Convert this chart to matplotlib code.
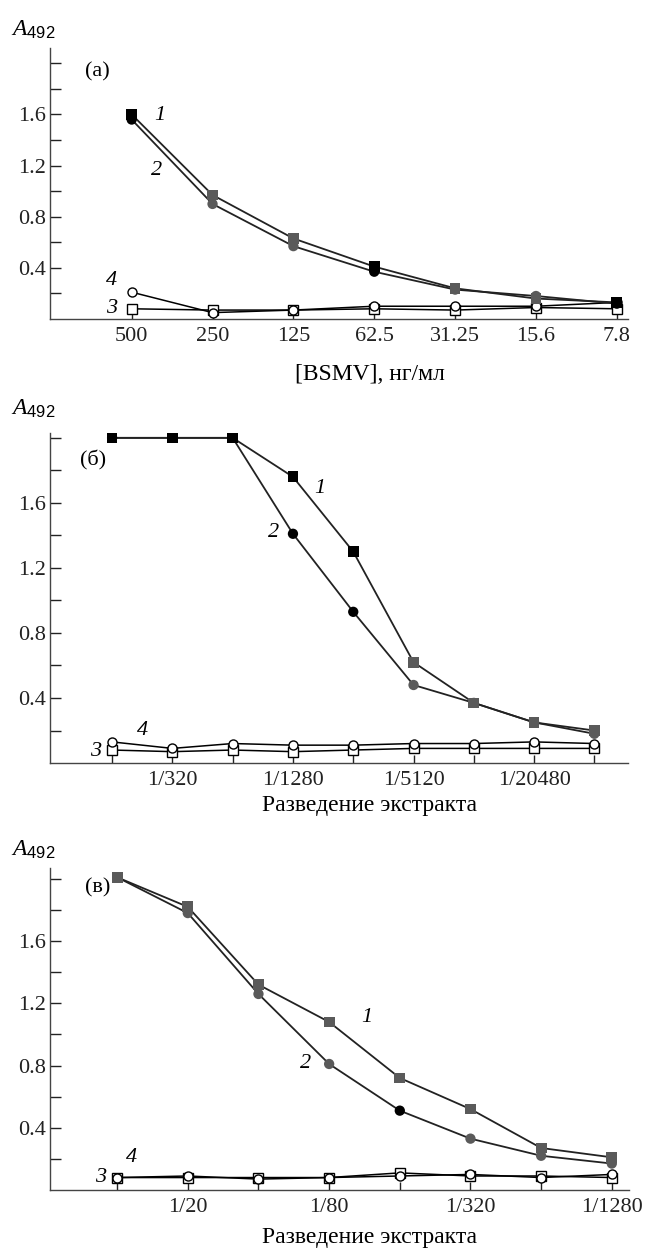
import numpy as np
import matplotlib.pyplot as plt

plt.rcParams['font.family'] = ['Liberation Serif', 'DejaVu Serif']
plt.rcParams['mathtext.fontset'] = 'custom'
plt.rcParams['mathtext.it'] = 'Liberation Serif:italic'
plt.rcParams['mathtext.rm'] = 'Liberation Sans'

# panel (а): BSMV concentration, ng/ml
xa_labels = ['500', '250', '125', '62.5', '31.25', '15.6', '7.8']
a1 = [1.60, 0.97, 0.63, 0.41, 0.24, 0.16, 0.13]
a2 = [1.56, 0.90, 0.57, 0.37, 0.23, 0.18, 0.12]
a3 = [0.08, 0.07, 0.07, 0.08, 0.07, 0.09, 0.08]
a4 = [0.21, 0.05, 0.07, 0.10, 0.10, 0.10, 0.13]

# panel (б): extract dilution 1/160 ... 1/40960
xb_labels = ['', '1/320', '', '1/1280', '', '1/5120', '', '1/20480', '']
b1 = [2.00, 2.00, 2.00, 1.76, 1.30, 0.62, 0.37, 0.25, 0.20]
b2 = [2.00, 2.00, 2.00, 1.41, 0.93, 0.48, 0.37, 0.25, 0.18]
b3 = [0.08, 0.07, 0.08, 0.07, 0.08, 0.09, 0.09, 0.09, 0.09]
b4 = [0.13, 0.09, 0.12, 0.11, 0.11, 0.12, 0.12, 0.13, 0.12]

# panel (в): extract dilution 1/10 ... 1/1280
xc_labels = ['', '1/20', '', '1/80', '', '1/320', '', '1/1280']
c1 = [2.01, 1.82, 1.32, 1.08, 0.72, 0.52, 0.27, 0.21]
c2 = [2.01, 1.78, 1.26, 0.81, 0.51, 0.33, 0.22, 0.17]
c3 = [0.08, 0.08, 0.08, 0.08, 0.11, 0.09, 0.09, 0.08]
c4 = [0.08, 0.09, 0.07, 0.08, 0.09, 0.10, 0.08, 0.10]

y_ticks = [0.2, 0.4, 0.6, 0.8, 1.0, 1.2, 1.4, 1.6, 1.8, 2.0]
y_ticklabels = ['', '0.4', '', '0.8', '', '1.2', '', '1.6', '', '']

# marker colours (scan shows some points black, some dark grey)
K, G = 'black', '#5a5a5a'
col_a1 = [K, G, G, K, G, G, K]
col_a2 = [K, G, G, K, G, G, K]
col_b1 = [K, K, K, K, K, G, G, G, G]
col_b2 = [K, K, K, K, K, G, G, G, G]
col_c1 = [G] * 8
col_c2 = [G, G, G, G, K, G, G, G]

fig = plt.figure(figsize=(6.57, 12.55), dpi=100)

panels = [
    dict(rect=[0.0761, 0.7458, 0.880, 0.2160], labels=xa_labels,
         s=(a1, a2, a3, a4), cols=(col_a1, col_a2), ylim=2.12, xlim=(-1.01, 6.14),
         tag='(а)', tagpos=(0.06, 0.91),
         num=[(0.35, 1.59), (0.31, 1.16), (-0.25, 0.08), (-0.25, 0.30)],
         xlabel='[BSMV], нг/мл', xly=375, aly=30),
    dict(rect=[0.0761, 0.3920, 0.880, 0.2630], labels=xb_labels,
         s=(b1, b2, b3, b4), cols=(col_b1, col_b2), ylim=2.03, xlim=(-1.03, 8.56),
         tag='(б)', tagpos=(0.052, 0.918),
         num=[(3.45, 1.69), (2.67, 1.42), (-0.28, 0.07), (0.51, 0.20)],
         xlabel='Разведение экстракта', xly=806, aly=409),
    dict(rect=[0.0761, 0.0518, 0.882, 0.2566], labels=xc_labels,
         s=(c1, c2, c3, c4), cols=(col_c1, col_c2), ylim=2.07, xlim=(-0.95, 7.25),
         tag='(в)', tagpos=(0.06, 0.938),
         num=[(3.53, 1.11), (2.66, 0.81), (-0.24, 0.08), (0.21, 0.21)],
         xlabel='Разведение экстракта', xly=1238, aly=850),
]

for p in panels:
    ax = fig.add_axes(p['rect'])
    s1, s2, s3, s4 = p['s']
    x = np.arange(len(s1))
    # open markers (3: squares, 4: circles)
    ax.plot(x, s3, color='black', lw=1.1, marker='s', ms=6.5, mfc='white', mec='black', mew=1.0, zorder=3)
    ax.plot(x, s4, color='black', lw=1.1, marker='o', ms=6.5, mfc='white', mec='black', mew=1.0, zorder=4)
    # filled series
    ax.plot(x, s1, color='#222222', lw=1.3, zorder=5)
    ax.plot(x, s2, color='#222222', lw=1.3, zorder=5)
    ax.scatter(x, s1, marker='s', s=60, c=p['cols'][0], zorder=6, linewidths=0)
    ax.scatter(x, s2, marker='o', s=55, c=p['cols'][1], zorder=6, linewidths=0)

    ax.set_xlim(*p['xlim'])
    ax.set_ylim(0, p['ylim'])
    ax.set_xticks(x)
    ax.set_xticklabels(p['labels'])
    ax.set_yticks(y_ticks)
    ax.set_yticklabels(y_ticklabels)
    ax.tick_params(axis='both', direction='in', labelsize=16, width=1.0, colors='#222222')
    ax.tick_params(axis='y', length=8, pad=3)
    ax.tick_params(axis='x', length=6, pad=6)
    for side in ('top', 'right'):
        ax.spines[side].set_visible(False)
    for side in ('left', 'bottom'):
        ax.spines[side].set_linewidth(1.0)
        ax.spines[side].set_color('#444444')

    ax.text(*p['tagpos'], p['tag'], transform=ax.transAxes, fontsize=16, va='center', ha='left')
    for i, (tx, ty) in enumerate(p['num']):
        ax.text(tx, ty, str(i + 1), fontsize=16, style='italic', ha='center', va='center')

    fig.text(370 / 657, 1 - p['xly'] / 1255, p['xlabel'], fontsize=17, ha='center', va='center')
    fig.text(11 / 657, 1 - p['aly'] / 1255, r'$A_{492}$', fontsize=17, ha='left', va='center')

plt.savefig('out.png', dpi=100)
